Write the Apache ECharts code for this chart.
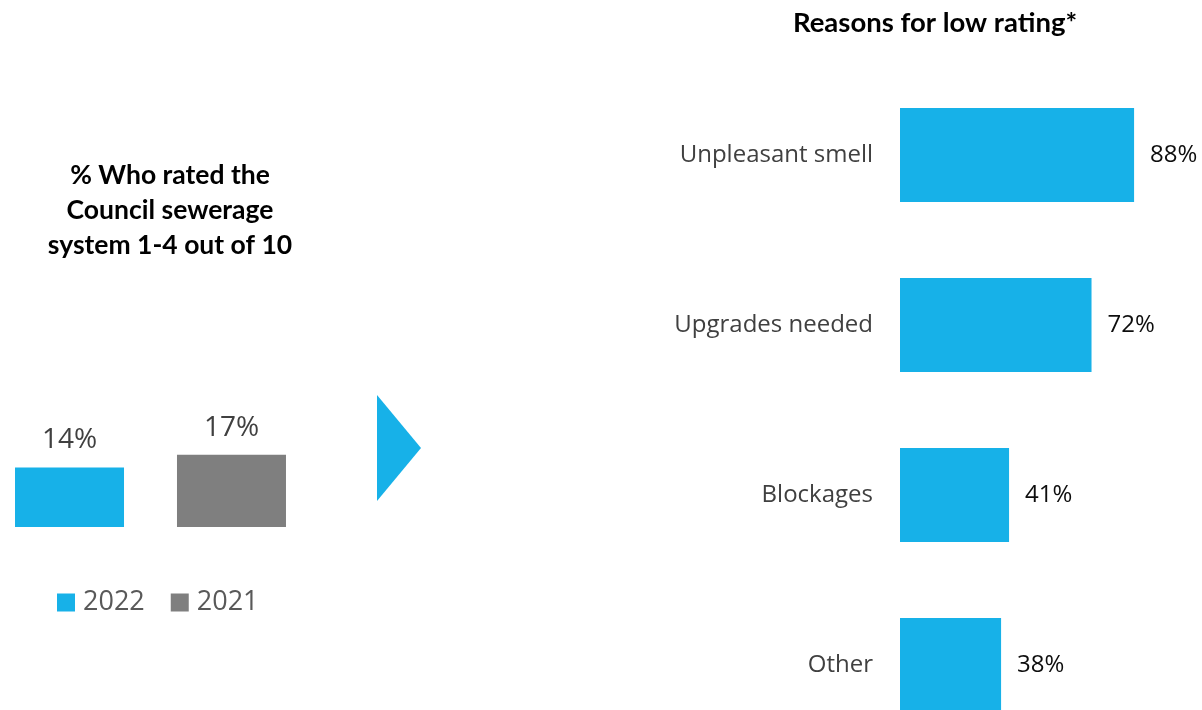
<!DOCTYPE html>
<html><head><meta charset="utf-8">
<script src="https://cdn.jsdelivr.net/npm/echarts@6/dist/echarts.min.js"></script>
<style>html,body{margin:0;padding:0;background:#fff}#c{width:1202px;height:710px}</style>
</head><body><div id="c"></div>
<script>
const leftTitle = '% Who rated the\nCouncil sewerage\nsystem 1-4 out of 10';
const rightTitle = 'Reasons for low rating*';
const years = ['2022', '2021'];
const yearValues = [14, 17];
const reasons = ['Unpleasant smell', 'Upgrades needed', 'Blockages', 'Other'];
const reasonValues = [88, 72, 41, 38];

const BLUE = '#17B1E8', GRAY = '#7F7F7F';
const SANS = '"Open Sans", sans-serif';
const chart = echarts.init(document.getElementById('c'));
chart.setOption({
  backgroundColor: '#fff',
  animation: false,
  title: [
    {text: leftTitle, left: 165, top: 153, textAlign: 'center',
     textStyle: {fontFamily: 'Lato', fontWeight: 'bold', fontSize: 26.5, lineHeight: 35, color: '#000'}},
    {text: rightTitle, left: 930, top: 4, textAlign: 'center',
     textStyle: {fontFamily: 'Lato', fontWeight: 'bold', fontSize: 27.5, color: '#000'}}
  ],
  legend: {
    left: 57, top: 589, padding: 0, icon: 'rect', itemWidth: 18, itemHeight: 18, itemGap: 26,
    textStyle: {fontFamily: SANS, fontSize: 27, color: '#595959', padding: [0,0,0,3]},
    data: years
  },
  grid: [
    {left: 0, width: 301, top: 102, height: 425, outerBoundsMode: 'none'},
    {left: 900, width: 266, top: 70, height: 680, outerBoundsMode: 'none'}
  ],
  xAxis: [
    {gridIndex: 0, type: 'category', data: [''], show: false},
    {gridIndex: 1, type: 'value', min: 0, max: 100, show: false}
  ],
  yAxis: [
    {gridIndex: 0, type: 'value', min: 0, max: 100, show: false},
    {gridIndex: 1, type: 'category', data: reasons, inverse: true,
     axisLine: {show: false}, axisTick: {show: false}, splitLine: {show: false},
     axisLabel: {margin: 27, fontFamily: SANS, fontSize: 24, color: '#404040'}}
  ],
  series: [
    ...years.map((y, i) => ({
      name: y, type: 'bar', xAxisIndex: 0, yAxisIndex: 0,
      data: [yearValues[i]], barWidth: 109, barGap: '48.6%',
      itemStyle: {color: i === 0 ? BLUE : GRAY},
      label: {show: true, position: 'top', distance: 13, formatter: '{c}%',
              fontFamily: SANS, fontSize: 28, color: '#404040'}
    })),
    {
      name: 'Reasons', type: 'bar', xAxisIndex: 1, yAxisIndex: 1,
      data: reasonValues, barWidth: 94, itemStyle: {color: BLUE},
      label: {show: true, position: 'right', distance: 16, formatter: '{c}%',
              fontFamily: SANS, fontSize: 24, color: '#0d0d0d'}
    }
  ],
  graphic: [
    {type: 'polygon', shape: {points: [[377, 395], [421, 448], [377, 501]]},
     style: {fill: BLUE}}
  ]
});
</script></body></html>
